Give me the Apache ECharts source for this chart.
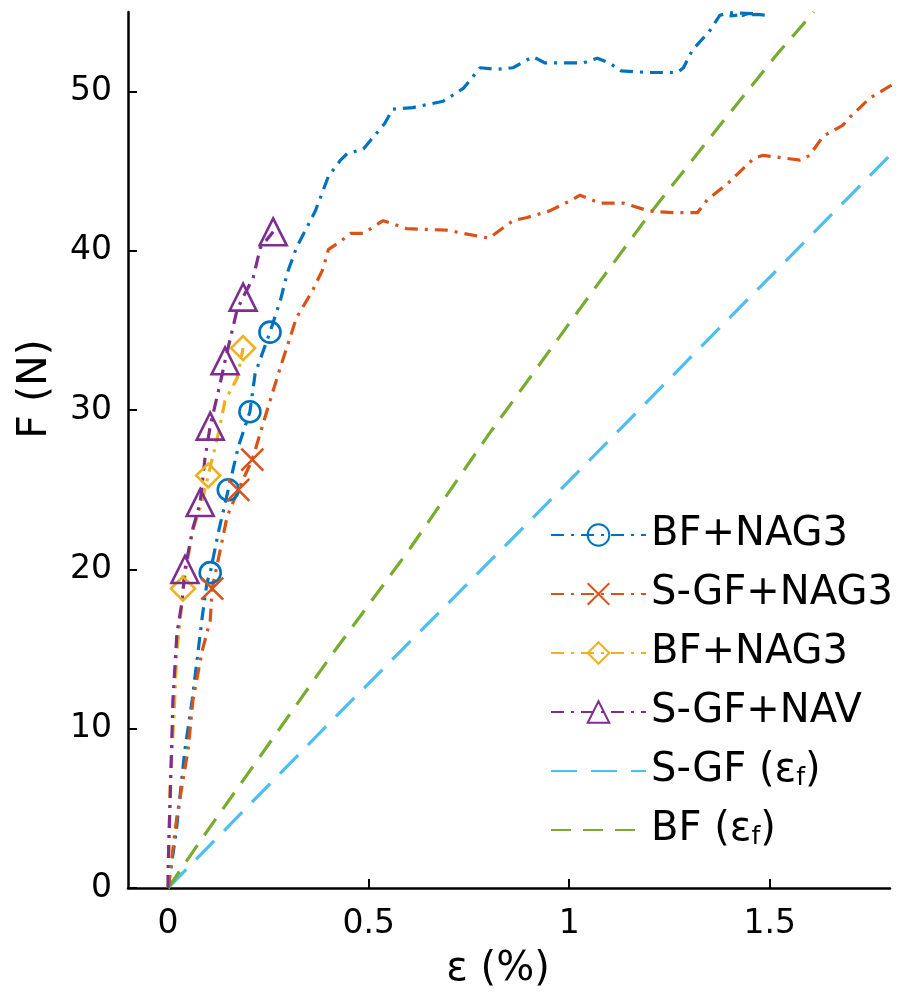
<!DOCTYPE html>
<html>
<head>
<meta charset="utf-8">
<script src="https://cdn.jsdelivr.net/npm/echarts@6/dist/echarts.min.js"></script>
<style>html,body{margin:0;padding:0;background:#fff}#c{width:902px;height:1002px}</style>
</head>
<body>
<div id="c"></div>
<script>
// ---- data (strain %, force N) ----
const seriesNames = ['BF+NAG3', 'S-GF+NAG3', 'BF+NAG3 ', 'S-GF+NAV', 'S-GF (εf)', 'BF (εf)'];
const xTicks = [0, 0.5, 1, 1.5];
const yTicks = [0, 10, 20, 30, 40, 50];

const bfNag3 = [[0,0],[0.02,3.5],[0.042,8.7],[0.06,11.8],[0.075,14.9],[0.085,17],[0.097,19.2],[0.105,19.8],[0.125,22.3],[0.15,25],[0.175,27.7],[0.204,29.9],[0.217,32.3],[0.254,34.9],[0.28,36.9],[0.297,38.6],[0.32,40.2],[0.367,42.5],[0.40,44.7],[0.43,45.7],[0.446,46.1],[0.487,46.4],[0.54,48],[0.56,48.9],[0.61,49],[0.686,49.4],[0.736,50.2],[0.778,51.5],[0.82,51.4],[0.86,51.5],[0.91,52.2],[0.94,51.8],[1.035,51.8],[1.07,52.1],[1.10,51.8],[1.13,51.3],[1.20,51.2],[1.27,51.2],[1.285,51.5],[1.307,52.6],[1.35,53.8],[1.376,54.8],[1.40,54.95],[1.46,54.9],[1.40,54.75],[1.47,54.85],[1.49,54.8]];
const bfNag3Marks = [7, 9, 11, 13];

const sgfNag3 = [[0,0],[0.022,4.5],[0.05,8.7],[0.062,11.8],[0.085,14.9],[0.105,16.8],[0.11,18.8],[0.147,23.3],[0.175,25],[0.21,26.9],[0.247,30],[0.28,32.7],[0.32,35.8],[0.36,37.5],[0.385,38.8],[0.40,40.1],[0.43,40.6],[0.455,41.1],[0.487,41.1],[0.536,41.9],[0.595,41.4],[0.695,41.3],[0.778,40.9],[0.80,40.8],[0.86,41.9],[0.895,42.1],[0.95,42.5],[1.007,43.2],[1.027,43.5],[1.077,43],[1.135,43],[1.2,42.5],[1.26,42.4],[1.32,42.4],[1.344,43.2],[1.394,44.2],[1.46,45.8],[1.484,46],[1.576,45.7],[1.6,46],[1.633,47.2],[1.683,47.9],[1.70,48.4],[1.75,49.6],[1.79,50.2],[1.81,50.5]];
const sgfNag3Marks = [6, 8, 9];

const bfNag3b = [[0,0],[0.005,6.6],[0.015,11],[0.022,14.9],[0.035,18],[0.037,18.8],[0.06,22.3],[0.085,24.3],[0.1,25.9],[0.125,28.5],[0.142,30.6],[0.172,32],[0.187,33.9]];
const bfNag3bMarks = [5, 8, 12];

const sgfNav = [[0,0],[0,1.3],[0.005,5.5],[0.012,11.8],[0.022,16],[0.035,18],[0.042,20],[0.062,22.6],[0.08,24.2],[0.092,27],[0.105,29],[0.13,31.7],[0.142,33.1],[0.172,36.3],[0.187,37.1],[0.212,38.3],[0.23,40.2],[0.262,41.2]];
const sgfNavMarks = [6, 8, 10, 12, 14, 17];

const sgfFiber = [[0,0],[0.4,10.3],[0.9,23],[1.4,35.8],[1.8,46]];
const bfFiber = [[0,0],[0.087,3.2],[0.222,8],[0.404,14.5],[0.6,21.2],[0.8,28.5],[1.045,37],[1.2,42.3],[1.37,47.7],[1.52,52.4],[1.61,55]];

// ---- styling ----
const FONT = 'DejaVu Sans';
const colors = ['#0072BD', '#D95319', '#EDB120', '#7E2F8E', '#4DBEEE', '#77AC30'];
const dashDot = [13, 7, 3, 7];
const xPath = 'path://M0,0L10,10M10,0L0,10';
const noSymbol = 'path://M0,0L10,0L10,10L0,10Z';

function withMarks(pts, marks) {
  return pts.map((p, i) => marks.indexOf(i) >= 0 ? { value: p } : { value: p, symbol: 'none' });
}

function markerSeries(name, pts, marks, color, symbol, size) {
  return {
    name: name, type: 'line', data: withMarks(pts, marks),
    symbol: symbol, symbolSize: size, showAllSymbol: true,
    lineStyle: { color: color, width: 3.2, type: dashDot },
    itemStyle: { color: 'rgba(255,255,255,0)', borderColor: color, borderWidth: 2.6 },
    emphasis: { disabled: true }, animation: false, z: 3
  };
}

function plainSeries(name, pts, color, dash) {
  return {
    name: name, type: 'line', data: pts, symbol: noSymbol, symbolSize: 1, showSymbol: false,
    lineStyle: { color: color, width: 3.2, type: dash },
    itemStyle: { color: 'rgba(255,255,255,0)', borderColor: 'rgba(255,255,255,0)', borderWidth: 0 },
    emphasis: { disabled: true }, animation: false, z: 2
  };
}

const option = {
  animation: false,
  grid: { left: 128, right: 12, top: 12, bottom: 114, containLabel: false },
  xAxis: {
    type: 'value', min: -0.1, max: 1.8,
    name: 'ε (%)', nameLocation: 'middle', nameGap: 62,
    nameTextStyle: { fontFamily: FONT, fontSize: 40, color: '#000', padding: [0, 22, 0, 0] },
    axisLine: { onZero: false, lineStyle: { color: '#000', width: 2.5 } },
    axisTick: { inside: true, length: 9, customValues: xTicks, lineStyle: { color: '#000', width: 2 } },
    axisLabel: { customValues: xTicks, margin: 20, fontFamily: FONT, fontSize: 33, color: '#000',
      formatter: v => String(v) },
    splitLine: { show: false }
  },
  yAxis: {
    type: 'value', min: 0, max: 55,
    name: 'F (N)', nameLocation: 'middle', nameGap: 72, nameRotate: 90,
    nameTextStyle: { fontFamily: FONT, fontSize: 41, color: '#000', padding: [0, 0, 0, 122] },
    axisLine: { show: true, onZero: false, lineStyle: { color: '#000', width: 2.5 } },
    axisTick: { show: true, inside: true, length: 9, customValues: yTicks, lineStyle: { color: '#000', width: 2 } },
    axisLabel: { customValues: yTicks, margin: 16, fontFamily: FONT, fontSize: 33, color: '#000' },
    splitLine: { show: false }
  },
  legend: {
    orient: 'vertical', left: 545, top: 510,
    itemWidth: 95, itemHeight: 27, itemGap: 19,
    textStyle: { fontFamily: FONT, fontSize: 40, color: '#000',
      rich: { s: { fontFamily: FONT, fontSize: 25, color: '#000', verticalAlign: 'bottom', padding: [14, 0, 0, 0] } } },
    formatter: function (n) {
      if (n.indexOf('(εf)') >= 0) { return n.replace('(εf)', '(ε{s|f})'); }
      return n.trim();
    },
    data: seriesNames.map(n => ({ name: n }))
  },
  series: [
    markerSeries(seriesNames[0], bfNag3, bfNag3Marks, colors[0], 'circle', 21),
    markerSeries(seriesNames[1], sgfNag3, sgfNag3Marks, colors[1], xPath, 22),
    markerSeries(seriesNames[2], bfNag3b, bfNag3bMarks, colors[2], 'diamond', 24),
    markerSeries(seriesNames[3], sgfNav, sgfNavMarks, colors[3], 'triangle', 27),
    plainSeries(seriesNames[4], sgfFiber, colors[4], [26, 14]),
    plainSeries(seriesNames[5], bfFiber, colors[5], [20, 12])
  ]
};

const chart = echarts.init(document.getElementById('c'), null, { renderer: 'canvas' });
chart.setOption(option);
</script>
</body>
</html>
